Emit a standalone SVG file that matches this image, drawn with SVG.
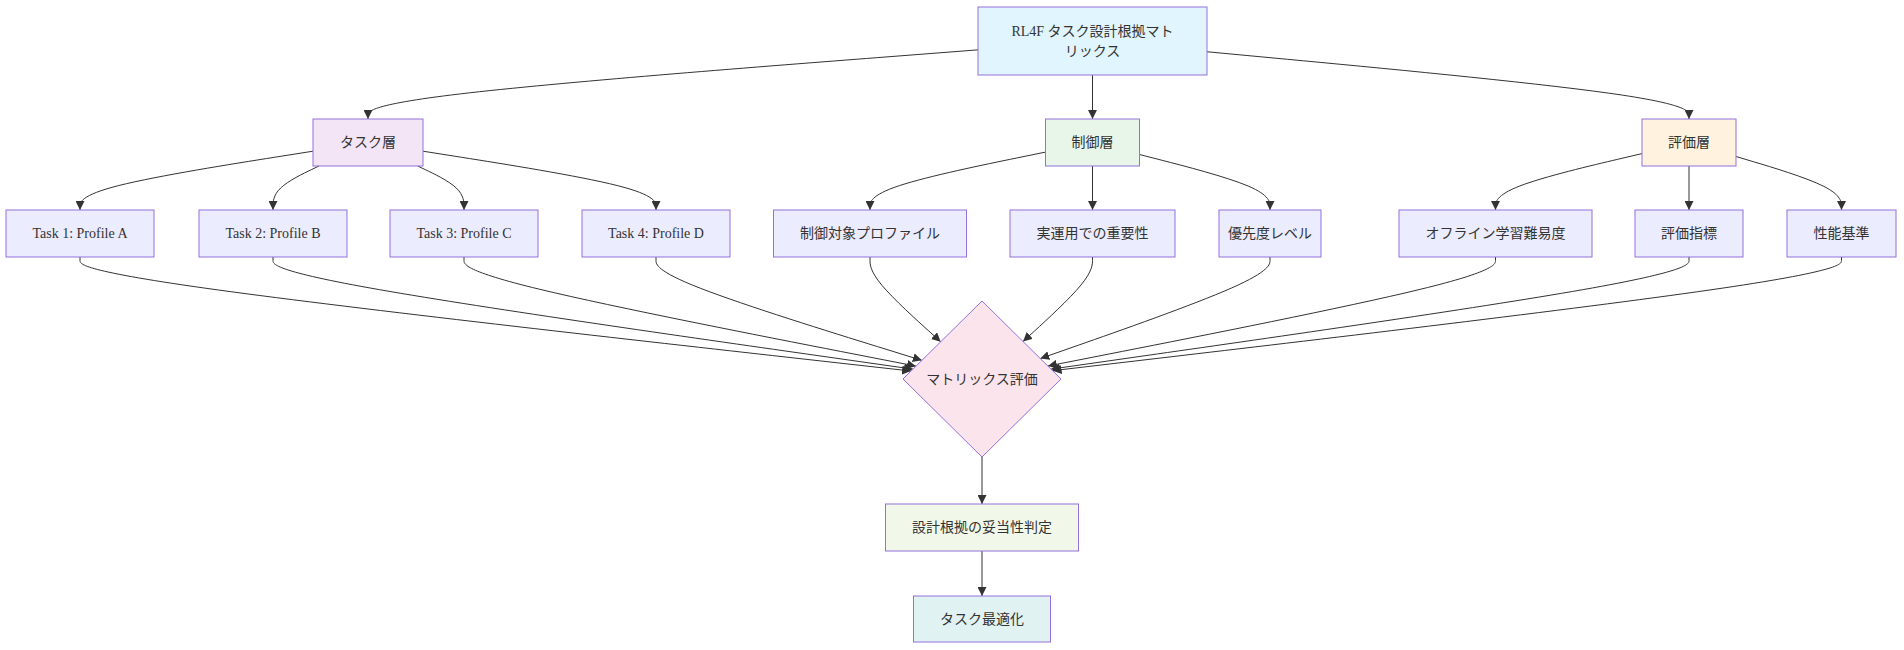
<svg xmlns="http://www.w3.org/2000/svg" width="1904" height="650" viewBox="0 0 1904 650">
<defs>
<style>
.n rect,.n polygon{stroke:#9370db;stroke-width:1}
.n text{font-family:"Liberation Serif","Noto Sans CJK JP",serif;font-size:14px;fill:#333;text-anchor:middle;dominant-baseline:central}
.leaf rect{fill:#ececff}
.e path{fill:none;stroke:#333;stroke-width:1;marker-end:url(#arr)}
</style>
<marker id="arr" viewBox="0 0 10 10" refX="10" refY="5" markerWidth="9" markerHeight="9" markerUnits="userSpaceOnUse" orient="auto"><path d="M0,0 L10,5 L0,10 z" fill="#333"/></marker>
</defs>
<rect width="1904" height="650" fill="#fff"/>
<g id="edges" class="e">
<path d="M978,49.85 L876.33,57.71 C774.67,65.57 571.33,81.28 469.67,92.81 C368,104.33 368,111.67 368,115.33 L368,119"/>
<path d="M1092.5,75 L1092.5,119"/>
<path d="M1207,51.75 L1287.33,59.29 C1367.67,66.83 1528.33,81.92 1608.67,93.13 C1689,104.33 1689,111.67 1689,115.33 L1689,119"/>
<path d="M313,151.2 L274.17,157.33 C235.33,163.47 157.67,175.73 118.83,185.53 C80,195.33 80,202.67 80,206.33 L80,210"/>
<path d="M319,166 L311.33,169.67 C303.67,173.33 288.33,180.67 280.67,188 C273,195.33 273,202.67 273,206.33 L273,210"/>
<path d="M417.6,166 L425.33,169.67 C433.07,173.33 448.53,180.67 456.27,188 C464,195.33 464,202.67 464,206.33 L464,210"/>
<path d="M423,151.2 L461.83,157.33 C500.67,163.47 578.33,175.73 617.17,185.53 C656,195.33 656,202.67 656,206.33 L656,210"/>
<path d="M1045.5,152.1 L1016.25,158.08 C987,164.07 928.5,176.03 899.25,185.68 C870,195.33 870,202.67 870,206.33 L870,210"/>
<path d="M1092.5,166 L1092.5,210"/>
<path d="M1139.5,154.5 L1161.25,160.08 C1183,165.67 1226.5,176.83 1248.25,186.08 C1270,195.33 1270,202.67 1270,206.33 L1270,210"/>
<path d="M1642,153.6 L1617.58,159.33 C1593.17,165.07 1544.33,176.53 1519.92,185.93 C1495.5,195.33 1495.5,202.67 1495.5,206.33 L1495.5,210"/>
<path d="M1689,166 L1689,210"/>
<path d="M1736,156.5 L1753.58,161.75 C1771.17,167 1806.33,177.5 1823.92,186.42 C1841.5,195.33 1841.5,202.67 1841.5,206.33 L1841.5,210"/>
<path d="M80,257 L80,260.5 C80,264 80,271 218.51,290.01 C357.02,309.02 634.03,340.04 772.54,355.55 L911.05,371.06"/>
<path d="M273,257 L273,260.5 C273,264 273,271 379.66,289.7 C486.32,308.39 699.65,338.78 806.31,353.98 L912.97,369.17"/>
<path d="M464,257 L464,260.5 C464,264 464,271 539.34,289.19 C614.68,307.38 765.35,336.76 840.69,351.45 L916.03,366.14"/>
<path d="M656,257 L656,260.5 C656,264 656,271 700.31,288.23 C744.62,305.46 833.25,332.91 877.56,346.64 L921.87,360.37"/>
<path d="M870,257 L870,260.5 C870,264 870,271 881.79,285.13 C893.57,299.26 917.15,320.51 928.93,331.14 L940.72,341.77"/>
<path d="M1092.5,257 L1092.5,260.5 C1092.5,264 1092.5,271 1080.92,285.09 C1069.34,299.17 1046.18,320.34 1034.6,330.93 L1023.02,341.51"/>
<path d="M1270,257 L1270,260.5 C1270,264 1270,271 1231.71,287.93 C1193.43,304.85 1116.86,331.71 1078.57,345.13 L1040.29,358.56"/>
<path d="M1495.5,257 L1495.5,260.5 C1495.5,264 1495.5,271 1420.9,289.17 C1346.29,307.35 1197.09,336.69 1122.48,351.37 L1047.88,366.04"/>
<path d="M1689,257 L1689,260.5 C1689,264 1689,271 1582.67,289.69 C1476.34,308.38 1263.68,338.76 1157.35,353.95 L1051.02,369.14"/>
<path d="M1841.5,257 L1841.5,260.5 C1841.5,264 1841.5,271 1710.02,289.95 C1578.53,308.9 1315.57,339.8 1184.08,355.25 L1052.6,370.7"/>
<path d="M982,457 L982,504"/>
<path d="M982,551 L982,596"/>
</g>
<g id="root" class="n"><rect x="978" y="7" width="229" height="68" fill="#e1f5fe"/><text x="1092.5" y="31.5">RL4F タスク設計根拠マト</text><text x="1092.5" y="51.5">リックス</text></g>
<g id="task_layer" class="n"><rect x="313" y="119" width="110" height="47" fill="#f3e5f5"/><text x="368" y="142.5">タスク層</text></g>
<g id="control_layer" class="n"><rect x="1045.5" y="119" width="94" height="47" fill="#e8f5e9"/><text x="1092.5" y="142.5">制御層</text></g>
<g id="eval_layer" class="n"><rect x="1642" y="119" width="94" height="47" fill="#fff3e0"/><text x="1689" y="142.5">評価層</text></g>
<g id="task1" class="n leaf"><rect x="6" y="210" width="148" height="47"/><text x="80" y="233.5">Task 1: Profile A</text></g>
<g id="task2" class="n leaf"><rect x="199" y="210" width="148" height="47"/><text x="273" y="233.5">Task 2: Profile B</text></g>
<g id="task3" class="n leaf"><rect x="390" y="210" width="148" height="47"/><text x="464" y="233.5">Task 3: Profile C</text></g>
<g id="task4" class="n leaf"><rect x="582" y="210" width="148" height="47"/><text x="656" y="233.5">Task 4: Profile D</text></g>
<g id="ctrl_profile" class="n leaf"><rect x="773.5" y="210" width="193" height="47"/><text x="870" y="233.5">制御対象プロファイル</text></g>
<g id="importance" class="n leaf"><rect x="1010" y="210" width="165" height="47"/><text x="1092.5" y="233.5">実運用での重要性</text></g>
<g id="priority" class="n leaf"><rect x="1219" y="210" width="102" height="47"/><text x="1270" y="233.5">優先度レベル</text></g>
<g id="offline" class="n leaf"><rect x="1399" y="210" width="193" height="47"/><text x="1495.5" y="233.5">オフライン学習難易度</text></g>
<g id="metrics" class="n leaf"><rect x="1635" y="210" width="108" height="47"/><text x="1689" y="233.5">評価指標</text></g>
<g id="criteria" class="n leaf"><rect x="1787" y="210" width="109" height="47"/><text x="1841.5" y="233.5">性能基準</text></g>
<g id="matrix" class="n"><polygon points="982,301 1061,379 982,457 903,379" fill="#fce4ec"/><text x="982" y="379">マトリックス評価</text></g>
<g id="validity" class="n"><rect x="885.5" y="504" width="193" height="47" fill="#f1f8e9"/><text x="982" y="527.5">設計根拠の妥当性判定</text></g>
<g id="optimize" class="n"><rect x="913.5" y="596" width="137" height="46" fill="#e0f2f1"/><text x="982" y="619">タスク最適化</text></g>
</svg>
